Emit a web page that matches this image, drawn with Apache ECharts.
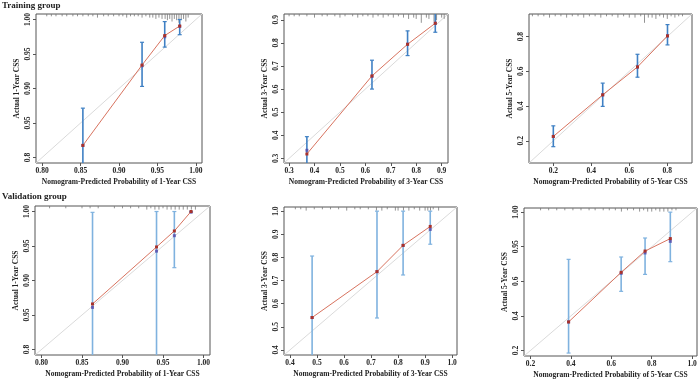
<!DOCTYPE html>
<html lang="en">
<head>
    <meta charset="utf-8">
    <title>calibration</title>
    <script src="https://cdn.jsdelivr.net/npm/echarts@6/dist/echarts.min.js"></script>
    <style>
        html, body { margin: 0; padding: 0; background: #fff; }
        #chart { width: 700px; height: 381px; }
    </style>
</head>
<body>
<div id="chart"></div>
<script>
    // training 1-year
    var t1Pred = [0.853, 0.930, 0.9595, 0.979];
    var t1Obs  = [0.8175, 0.934, 0.9767, 0.9906];
    var t1Mid  = [0.8175, 0.933, 0.975, 0.990];
    var t1Lo   = [0.76, 0.903, 0.960, 0.978];
    var t1Hi   = [0.8715, 0.967, 0.997, 1.000];
    var t1RugX = [0.806, 0.812, 0.818, 0.826, 0.832, 0.840, 0.846, 0.853, 0.860, 0.866, 0.872, 0.880, 0.886, 0.893, 0.900, 0.905, 0.910, 0.915, 0.920, 0.925, 0.930, 0.935, 0.940, 0.944, 0.948, 0.952, 0.956, 0.960, 0.963, 0.966, 0.969, 0.972, 0.975, 0.978, 0.981, 0.984, 0.987, 0.990];
    var t1RugH = [1, 1, 1, 1, 1, 1, 1, 1, 1, 1, 2, 1, 1, 1, 1, 1, 2, 1, 1, 1, 2, 1, 2, 2, 3, 2, 3, 3, 4, 3, 5, 3, 4, 6, 4, 3, 5, 2];

    // training 3-year
    var t3Pred = [0.370, 0.626, 0.766, 0.875];
    var t3Obs  = [0.319, 0.657, 0.794, 0.885];
    var t3Mid  = [0.335, 0.655, 0.794, 0.885];
    var t3Lo   = [0.25, 0.600, 0.745, 0.846];
    var t3Hi   = [0.394, 0.725, 0.852, 0.93];
    var t3RugX = [0.30, 0.32, 0.34, 0.37, 0.40, 0.43, 0.45, 0.48, 0.50, 0.52, 0.55, 0.57, 0.59, 0.61, 0.63, 0.65, 0.67, 0.69, 0.71, 0.73, 0.75, 0.77, 0.79, 0.80, 0.82, 0.84, 0.85, 0.87, 0.88, 0.90, 0.91];
    var t3RugH = [1, 1, 1, 1, 2, 1, 1, 1, 2, 1, 1, 2, 1, 1, 2, 1, 2, 1, 2, 1, 2, 3, 2, 3, 6, 2, 3, 5, 4, 2, 3];

    // training 5-year
    var t5Pred = [0.200, 0.460, 0.643, 0.801];
    var t5Obs  = [0.225, 0.4645, 0.625, 0.804];
    var t5Mid  = [0.225, 0.4645, 0.625, 0.804];
    var t5Lo   = [0.166, 0.398, 0.566, 0.752];
    var t5Hi   = [0.286, 0.532, 0.698, 0.869];
    var t5RugX = [0.09, 0.12, 0.15, 0.18, 0.21, 0.24, 0.27, 0.30, 0.33, 0.36, 0.39, 0.42, 0.45, 0.48, 0.51, 0.54, 0.57, 0.60, 0.63, 0.66, 0.68, 0.70, 0.72, 0.74, 0.76, 0.78, 0.80, 0.82, 0.84, 0.86, 0.88];
    var t5RugH = [1, 1, 1, 2, 1, 1, 2, 1, 1, 2, 1, 1, 2, 1, 1, 2, 1, 2, 2, 1, 6, 2, 2, 3, 1, 2, 3, 1, 2, 1, 1];

    // validation 1-year
    var v1Pred = [0.863, 0.942, 0.964, 0.9846];
    var v1Obs  = [0.866, 0.9486, 0.9718, 1.000];
    var v1Mid  = [0.861, 0.9426, 0.965, 0.999];
    var v1Lo   = [0.70, 0.70, 0.9186, 0.999];
    var v1Hi   = [0.9988, 1.000, 1.000, 1.000];
    var v1RugX = [0.81, 0.83, 0.85, 0.86, 0.87, 0.89, 0.90, 0.91, 0.92, 0.93, 0.935, 0.94, 0.945, 0.95, 0.955, 0.96, 0.965, 0.97, 0.975, 0.98, 0.985, 0.99];
    var v1RugH = [1, 1, 1, 1, 1, 1, 1, 1, 1, 2, 1, 2, 2, 1, 2, 2, 2, 2, 2, 2, 2, 2];

    // validation 3-year
    var v3Pred = [0.482, 0.722, 0.8186, 0.919];
    var v3Obs  = [0.540, 0.7385, 0.852, 0.934];
    var v3Mid  = [0.540, 0.7385, 0.852, 0.921];
    var v3Lo   = [0.30, 0.538, 0.724, 0.857];
    var v3Hi   = [0.806, 1.000, 1.000, 1.000];
    var v3RugX = [0.42, 0.44, 0.46, 0.49, 0.52, 0.55, 0.58, 0.61, 0.64, 0.66, 0.69, 0.72, 0.74, 0.76, 0.79, 0.80, 0.82, 0.84, 0.86, 0.88, 0.90, 0.91, 0.92, 0.93, 0.95];
    var v3RugH = [1, 1, 2, 1, 1, 1, 1, 2, 1, 1, 1, 2, 2, 1, 2, 2, 2, 2, 1, 2, 2, 2, 2, 1, 2];

    // validation 5-year
    var v5Pred = [0.3886, 0.6487, 0.767, 0.892];
    var v5Obs  = [0.365, 0.652, 0.775, 0.847];
    var v5Mid  = [0.365, 0.646, 0.764, 0.831];
    var v5Lo   = [0.185, 0.542, 0.640, 0.7136];
    var v5Hi   = [0.727, 0.7406, 0.8505, 1.000];
    var v5RugX = [0.25, 0.29, 0.33, 0.37, 0.41, 0.45, 0.49, 0.52, 0.56, 0.59, 0.62, 0.65, 0.68, 0.71, 0.74, 0.76, 0.78, 0.80, 0.82, 0.84, 0.86, 0.88, 0.90, 0.92];
    var v5RugH = [1, 1, 1, 1, 1, 1, 1, 1, 1, 1, 1, 2, 1, 1, 2, 1, 2, 2, 1, 2, 2, 2, 1, 1];

    // tick positions and labels
    var ticks1 = [0.80, 0.85, 0.90, 0.95, 1.00];
    var ticks1X = ['0.80', '0.85', '0.90', '0.95', '1.00'];
    var ticks1Y = ['0.8', '0.95', '0.90', '0.95', '1.00'];
    var ticks3t = [0.3, 0.4, 0.5, 0.6, 0.7, 0.8, 0.9];
    var ticks3tL = ['0.3', '0.4', '0.5', '0.6', '0.7', '0.8', '0.9'];
    var ticks5t = [0.2, 0.4, 0.6, 0.8];
    var ticks5tL = ['0.2', '0.4', '0.6', '0.8'];
    var ticks3v = [0.4, 0.5, 0.6, 0.7, 0.8, 0.9, 1.0];
    var ticks3vL = ['0.4', '0.5', '0.6', '0.7', '0.8', '0.9', '1.0'];
    var ticks5v = [0.2, 0.4, 0.6, 0.8, 1.0];
    var ticks5vX = ['0.2', '0.4', '0.6', '0.8', '1.0'];
    var ticks5vY = ['0.2', '0.4', '0.6', '0.95', '1.00'];

    var font = '"Liberation Serif", "DejaVu Serif", serif';

    var panels = [
        { yr: 1, box: [36, 14, 166, 149], lim: [0.792, 1.008], pred: t1Pred, obs: t1Obs, mid: t1Mid, lo: t1Lo, hi: t1Hi, rx: t1RugX, rh: t1RugH, tk: ticks1, xl: ticks1X, yl: ticks1Y, bar: '#3f80c4' },
        { yr: 3, box: [284, 14, 164, 149], lim: [0.28, 0.925], pred: t3Pred, obs: t3Obs, mid: t3Mid, lo: t3Lo, hi: t3Hi, rx: t3RugX, rh: t3RugH, tk: ticks3t, xl: ticks3tL, yl: ticks3tL, bar: '#3f80c4' },
        { yr: 5, box: [529, 14, 163, 149], lim: [0.072, 0.93], pred: t5Pred, obs: t5Obs, mid: t5Mid, lo: t5Lo, hi: t5Hi, rx: t5RugX, rh: t5RugH, tk: ticks5t, xl: ticks5tL, yl: ticks5tL, bar: '#3f80c4' },
        { yr: 1, box: [35, 206, 175, 149], lim: [0.792, 1.008], pred: v1Pred, obs: v1Obs, mid: v1Mid, lo: v1Lo, hi: v1Hi, rx: v1RugX, rh: v1RugH, tk: ticks1, xl: ticks1X, yl: ticks1Y, bar: '#7fb2df' },
        { yr: 3, box: [284, 207, 173, 148], lim: [0.378, 1.018], pred: v3Pred, obs: v3Obs, mid: v3Mid, lo: v3Lo, hi: v3Hi, rx: v3RugX, rh: v3RugH, tk: ticks3v, xl: ticks3vL, yl: ticks3vL, bar: '#7fb2df' },
        { yr: 5, box: [524, 208, 173, 148], lim: [0.168, 1.024], pred: v5Pred, obs: v5Obs, mid: v5Mid, lo: v5Lo, hi: v5Hi, rx: v5RugX, rh: v5RugH, tk: ticks5v, xl: ticks5vX, yl: ticks5vY, bar: '#7fb2df' }
    ];

    function labelFn(vals, labels) {
        return function (v) {
            for (var i = 0; i < vals.length; i++) {
                if (Math.abs(vals[i] - v) < 1e-6) return labels[i];
            }
            return '';
        };
    }

    function clampY(y, cs) {
        return Math.max(cs.y, Math.min(cs.y + cs.height, y));
    }

    var grids = [], xAxes = [], yAxes = [], series = [];

    panels.forEach(function (p, i) {
        grids.push({
            left: p.box[0], top: p.box[1], width: p.box[2], height: p.box[3],
            show: true, borderColor: '#555', borderWidth: 1, backgroundColor: 'transparent'
        });
        var axisCommon = {
            type: 'value', gridIndex: i, min: p.lim[0], max: p.lim[1],
            splitLine: { show: false },
            axisLine: { show: false },
            axisTick: { show: true, inside: false, length: 3, customValues: p.tk, lineStyle: { color: '#555' } },
            nameLocation: 'middle',
            nameTextStyle: { fontFamily: font, fontWeight: 'bold', fontSize: 7.5, color: '#222' }
        };
        xAxes.push(Object.assign({}, axisCommon, {
            name: 'Nomogram-Predicted Probability of ' + p.yr + '-Year CSS',
            nameGap: 15,
            axisLabel: { customValues: p.tk, formatter: labelFn(p.tk, p.xl), margin: 4, fontFamily: font, fontWeight: 'bold', fontSize: 7.5, color: '#222' }
        }));
        yAxes.push(Object.assign({}, axisCommon, {
            name: 'Actual ' + p.yr + '-Year CSS',
            nameGap: 15,
            axisLabel: { customValues: p.tk, formatter: labelFn(p.tk, p.yl), rotate: 90, margin: 4, fontFamily: font, fontWeight: 'bold', fontSize: 7.5, color: '#222' }
        }));

        // y = x reference line
        series.push({
            type: 'line', xAxisIndex: i, yAxisIndex: i, silent: true, symbol: 'none',
            data: [[p.lim[0], p.lim[0]], [p.lim[1], p.lim[1]]],
            lineStyle: { color: '#dadada', width: 1 }, z: 1
        });

        // rug of predicted probabilities along the top
        series.push({
            type: 'custom', xAxisIndex: i, yAxisIndex: i, silent: true, z: 2,
            data: p.rx.map(function (x, k) { return [x, p.rh[k]]; }),
            renderItem: function (params, api) {
                var cs = params.coordSys;
                var pt = api.coord([api.value(0), p.lim[1]]);
                return {
                    type: 'line',
                    shape: { x1: pt[0], y1: cs.y, x2: pt[0], y2: cs.y + 1 + api.value(1) * 1.3 },
                    style: { stroke: '#777', lineWidth: 0.8 }
                };
            }
        });

        // error bars
        series.push({
            type: 'custom', xAxisIndex: i, yAxisIndex: i, silent: true, z: 3,
            data: p.pred.map(function (x, k) { return [x, p.lo[k], p.hi[k]]; }),
            renderItem: function (params, api) {
                var cs = params.coordSys;
                var a = api.coord([api.value(0), api.value(1)]);
                var b = api.coord([api.value(0), api.value(2)]);
                var ya = clampY(a[1], cs), yb = clampY(b[1], cs);
                var kids = [{
                    type: 'line',
                    shape: { x1: a[0], y1: ya, x2: a[0], y2: yb },
                    style: { stroke: p.bar, lineWidth: 1.6 }
                }];
                [a[1], b[1]].forEach(function (y) {
                    if (y >= cs.y - 0.5 && y <= cs.y + cs.height + 0.5) {
                        kids.push({
                            type: 'line',
                            shape: { x1: a[0] - 2, y1: y, x2: a[0] + 2, y2: y },
                            style: { stroke: p.bar, lineWidth: 1.2 }
                        });
                    }
                });
                return { type: 'group', children: kids };
            }
        });

        // apparent points
        series.push({
            type: 'scatter', xAxisIndex: i, yAxisIndex: i, silent: true, z: 4,
            symbol: 'rect', symbolSize: 3,
            data: p.pred.map(function (x, k) { return [x, p.mid[k]]; }),
            itemStyle: { color: '#5146a8' }
        });

        // observed line
        series.push({
            type: 'line', xAxisIndex: i, yAxisIndex: i, silent: true, z: 5,
            symbol: 'rect', symbolSize: 3, showSymbol: true,
            data: p.pred.map(function (x, k) { return [x, p.obs[k]]; }),
            lineStyle: { color: '#d8735f', width: 1 },
            itemStyle: { color: '#a8322c' }
        });
    });

    var chart = echarts.init(document.getElementById('chart'), null, { renderer: 'canvas' });
    chart.setOption({
        animation: false,
        backgroundColor: '#fff',
        title: [
            { text: 'Training group', left: 2, top: 1, padding: 0, textStyle: { fontFamily: font, fontWeight: 'bold', fontSize: 9, color: '#222' } },
            { text: 'Validation group', left: 2, top: 192, padding: 0, textStyle: { fontFamily: font, fontWeight: 'bold', fontSize: 9, color: '#222' } }
        ],
        grid: grids,
        xAxis: xAxes,
        yAxis: yAxes,
        series: series
    });
</script>
</body>
</html>
